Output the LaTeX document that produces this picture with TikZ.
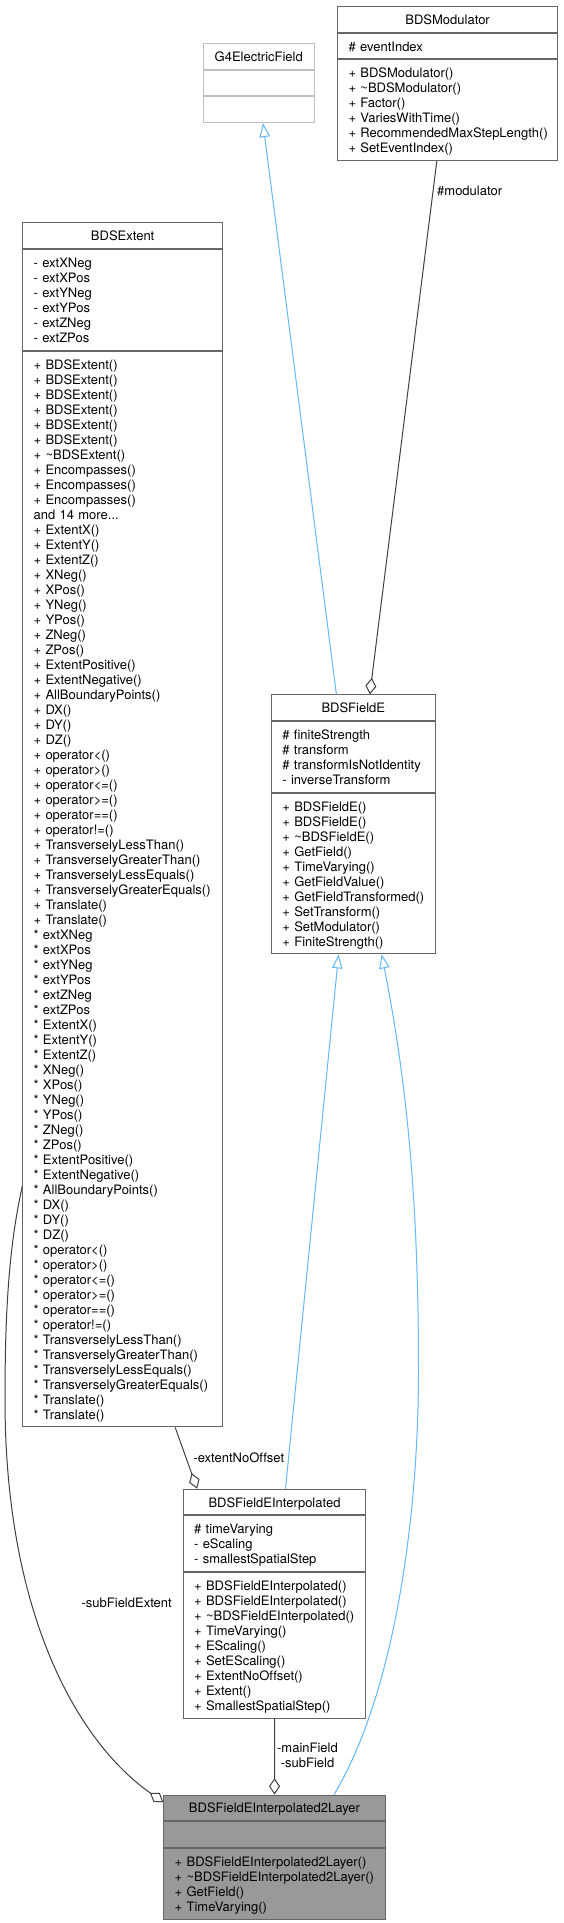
\documentclass[tikz,border=0pt]{standalone}
\usepackage{fontspec}
\setmainfont{TeX Gyre Heros}[Ligatures=NoCommon]
\usetikzlibrary{arrows.meta}
\definecolor{boxborder}{HTML}{666666}
\definecolor{extborder}{HTML}{BFBFBF}
\definecolor{hlfill}{HTML}{999999}
\definecolor{inherit}{HTML}{63B8FF}
\definecolor{collab}{HTML}{404040}
\newcommand{\ms}{\rule[-2.9pt]{0pt}{15.7pt}}
\hyphenpenalty=10000
\exhyphenpenalty=10000
\lineskiplimit=-30pt
\normallineskiplimit=-30pt
\begin{document}
\begin{tikzpicture}[x=1pt,y=-1pt,
  font=\fontsize{13pt}{15pt}\selectfont,
  box/.style={draw=boxborder, line width=1pt, fill=white, inner sep=0pt, anchor=north west, text=black},
  hdr/.style={box, align=center, minimum height=25.7pt},
  lst/.style={box, align=left, inner xsep=10.8pt, inner ysep=0pt},
  ext/.style={draw=extborder},
  hl/.style={fill=hlfill},
  inh/.style={draw=inherit, line width=1pt, -{Triangle[open,length=14pt,width=10.5pt]}},
  agg/.style={draw=collab, line width=1pt, -{Diamond[open,length=16.5pt,width=11pt]}},
  lbl/.style={inner sep=0pt, text=black},
]
\fill[white] (0,0) rectangle (563,1923);
\useasboundingbox (0,0) rectangle (563,1923);

% G4ElectricField
\node[hdr, ext, minimum width=110.5pt] (g4t) at (203,43) {\ms G4ElectricField};
\node[hdr, ext, minimum width=110.5pt] (g4a) at (g4t.south west) {};
\node[hdr, ext, minimum width=110.5pt] (g4m) at (g4a.south west) {};

% BDSModulator
\node[hdr, minimum width=219.8pt] (bmt) at (337.2,6) {\ms BDSModulator};
\node[lst, text width=198.2pt, minimum height=25.7pt] (bma) at (bmt.south west) {\ms\#~eventIndex};
\node[lst, text width=198.2pt, minimum height=100.7pt] (bmm) at (bma.south west) {%
\ms+~BDSModulator()\\
\ms+~\textasciitilde BDSModulator()\\
\ms+~Factor()\\
\ms+~VariesWithTime()\\
\ms+~RecommendedMaxStepLength()\\
\ms+~SetEventIndex()};

% BDSExtent
\node[hdr, minimum width=199.7pt] (bet) at (22.3,222.3) {\ms BDSExtent};
\node[lst, text width=178.1pt, minimum height=100.7pt] (bea) at (bet.south west) {%
\ms-~extXNeg\\
\ms-~extXPos\\
\ms-~extYNeg\\
\ms-~extYPos\\
\ms-~extZNeg\\
\ms-~extZPos};
\node[lst, text width=178.1pt, minimum height=1075.7pt] (bem) at (bea.south west) {%
\ms+~BDSExtent()\\
\ms+~BDSExtent()\\
\ms+~BDSExtent()\\
\ms+~BDSExtent()\\
\ms+~BDSExtent()\\
\ms+~BDSExtent()\\
\ms+~\textasciitilde BDSExtent()\\
\ms+~Encompasses()\\
\ms+~Encompasses()\\
\ms+~Encompasses()\\
\ms and~14~more...\\
\ms+~ExtentX()\\
\ms+~ExtentY()\\
\ms+~ExtentZ()\\
\ms+~XNeg()\\
\ms+~XPos()\\
\ms+~YNeg()\\
\ms+~YPos()\\
\ms+~ZNeg()\\
\ms+~ZPos()\\
\ms+~ExtentPositive()\\
\ms+~ExtentNegative()\\
\ms+~AllBoundaryPoints()\\
\ms+~DX()\\
\ms+~DY()\\
\ms+~DZ()\\
\ms+~operator<()\\
\ms+~operator>()\\
\ms+~operator<=()\\
\ms+~operator>=()\\
\ms+~operator==()\\
\ms+~operator!=()\\
\ms+~TransverselyLessThan()\\
\ms+~TransverselyGreaterThan()\\
\ms+~TransverselyLessEquals()\\
\ms+~TransverselyGreaterEquals()\\
\ms+~Translate()\\
\ms+~Translate()\\
\ms*~extXNeg\\
\ms*~extXPos\\
\ms*~extYNeg\\
\ms*~extYPos\\
\ms*~extZNeg\\
\ms*~extZPos\\
\ms*~ExtentX()\\
\ms*~ExtentY()\\
\ms*~ExtentZ()\\
\ms*~XNeg()\\
\ms*~XPos()\\
\ms*~YNeg()\\
\ms*~YPos()\\
\ms*~ZNeg()\\
\ms*~ZPos()\\
\ms*~ExtentPositive()\\
\ms*~ExtentNegative()\\
\ms*~AllBoundaryPoints()\\
\ms*~DX()\\
\ms*~DY()\\
\ms*~DZ()\\
\ms*~operator<()\\
\ms*~operator>()\\
\ms*~operator<=()\\
\ms*~operator>=()\\
\ms*~operator==()\\
\ms*~operator!=()\\
\ms*~TransverselyLessThan()\\
\ms*~TransverselyGreaterThan()\\
\ms*~TransverselyLessEquals()\\
\ms*~TransverselyGreaterEquals()\\
\ms*~Translate()\\
\ms*~Translate()};

% BDSFieldE
\node[hdr, minimum width=163.4pt] (fet) at (271.1,694.3) {\ms BDSFieldE};
\node[lst, text width=141.8pt, minimum height=70.7pt] (fea) at (fet.south west) {%
\ms\#~finiteStrength\\
\ms\#~transform\\
\ms\#~transformIsNotIdentity\\
\ms-~inverseTransform};
\node[lst, text width=141.8pt, minimum height=160.7pt] (fem) at (fea.south west) {%
\ms+~BDSFieldE()\\
\ms+~BDSFieldE()\\
\ms+~\textasciitilde BDSFieldE()\\
\ms+~GetField()\\
\ms+~TimeVarying()\\
\ms+~GetFieldValue()\\
\ms+~GetFieldTransformed()\\
\ms+~SetTransform()\\
\ms+~SetModulator()\\
\ms+~FiniteStrength()};

% BDSFieldEInterpolated
\node[hdr, minimum width=182.4pt] (fit) at (182.8,1488.7) {\ms BDSFieldEInterpolated};
\node[lst, text width=160.8pt, minimum height=55.7pt] (fia) at (fit.south west) {%
\ms\#~timeVarying\\
\ms-~eScaling\\
\ms-~smallestSpatialStep};
\node[lst, text width=160.8pt, minimum height=145.7pt] (fim) at (fia.south west) {%
\ms+~BDSFieldEInterpolated()\\
\ms+~BDSFieldEInterpolated()\\
\ms+~\textasciitilde BDSFieldEInterpolated()\\
\ms+~TimeVarying()\\
\ms+~EScaling()\\
\ms+~SetEScaling()\\
\ms+~ExtentNoOffset()\\
\ms+~Extent()\\
\ms+~SmallestSpatialStep()};

% BDSFieldEInterpolated2Layer
\node[hdr, hl, minimum width=221.2pt] (f2t) at (163.4,1794.6) {\ms BDSFieldEInterpolated2Layer};
\node[hdr, hl, minimum width=221.2pt] (f2a) at (f2t.south west) {};
\node[lst, hl, text width=199.6pt, minimum height=70.7pt] (f2m) at (f2a.south west) {%
\ms+~BDSFieldEInterpolated2Layer()\\
\ms+~\textasciitilde BDSFieldEInterpolated2Layer()\\
\ms+~GetField()\\
\ms+~TimeVarying()};

% connectors
\draw[inh] ([xshift=65.3pt]fet.north west) -- ([xshift=60pt]g4m.south west);
\draw[agg] ([xshift=99.6pt]bmm.south west) -- ([xshift=98.7pt]fet.north west);
\node[lbl, anchor=west] (lmod) at (437,190.7) {\#modulator};

\draw[inh] ([xshift=102.7pt]fit.north west) -- ([xshift=67.5pt]fem.south west);
\draw[inh] ([xshift=170.6pt]f2t.north west) .. controls (394,1694.6) and (418.5,1520) .. (418.5,1370)
  .. controls (418.5,1200) and (406.7,1081.7) .. ([xshift=110.6pt]fem.south west);

\draw[agg] ([xshift=152.9pt]bem.south west) -- ([xshift=14.3pt]fit.north west);
\node[lbl, anchor=west] (lext) at (193.3,1457.5) {-extentNoOffset};

\draw[agg] (fim.south) -- (f2t.north);
\node[lbl, align=center] (lmain) at (307.5,1755.7) {-mainField\\-subField};

\draw[agg] ([yshift=241.1pt]bem.south west) .. controls (8,1250) and (5,1320) .. (5,1400)
  .. controls (5,1610) and (75,1740) .. ([yshift=-7.6pt]f2t.north west);
\node[lbl] (lsub) at (126.7,1602.7) {-subFieldExtent};
\end{tikzpicture}
\end{document}
